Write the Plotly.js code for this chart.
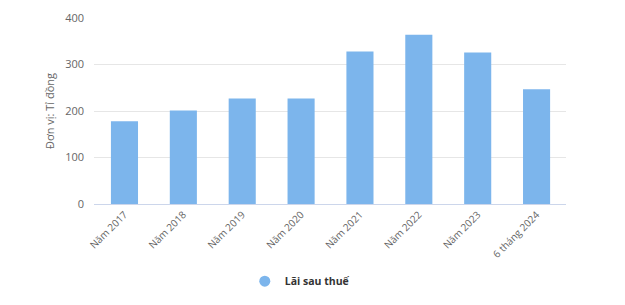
<!DOCTYPE html>
<html>
<head>
<meta charset="utf-8">
<script src="https://cdn.plot.ly/plotly-3.0.1.min.js"></script>
<style>html,body{margin:0;padding:0;background:#fff;}#chart{width:625px;height:305px;}</style>
</head>
<body>
<div id="chart"></div>
<script>
var categories = ["Năm 2017", "Năm 2018", "Năm 2019", "Năm 2020", "Năm 2021", "Năm 2022", "Năm 2023", "6 tháng 2024"];
var profitAfterTax = [178, 201, 227, 227, 328, 364, 326, 247];
var seriesName = "Lãi sau thuế";
var yTickValues = [0, 100, 200, 300, 400];
var barColor = "#7cb5ec";
var fontFamily = "'Open Sans', 'DejaVu Sans', sans-serif";

var traces = [
  {
    type: "bar",
    x: categories,
    y: profitAfterTax,
    marker: {color: barColor},
    showlegend: false,
    hoverinfo: "x+y"
  },
  {
    type: "scatter",
    mode: "markers",
    x: [categories[0]],
    y: [null],
    name: seriesName,
    marker: {color: barColor, size: 11, symbol: "circle"},
    showlegend: true
  }
];

var layout = {
  width: 625,
  height: 305,
  margin: {l: 94, r: 59, t: 18, b: 101, autoexpand: false},
  paper_bgcolor: "#ffffff",
  plot_bgcolor: "#ffffff",
  font: {family: fontFamily, size: 11, color: "#666666"},
  bargap: 0.54,
  xaxis: {
    type: "category",
    tickangle: -45,
    tickfont: {size: 10, color: "#666666"},
    showgrid: false,
    showline: true,
    linecolor: "#ccd6eb",
    linewidth: 1,
    ticks: "",
    automargin: false,
    fixedrange: true
  },
  yaxis: {
    range: [0, 400],
    tickvals: yTickValues,
    showgrid: true,
    gridcolor: "#e6e6e6",
    gridwidth: 1,
    zeroline: false,
    showline: false,
    ticks: "",
    ticklabelstandoff: 9,
    automargin: false,
    tickfont: {size: 11, color: "#666666"},
    title: {text: "Đơn vị: Tỉ đồng", font: {size: 11, color: "#666666"}, standoff: 8},
    fixedrange: true
  },
  legend: {
    orientation: "h",
    x: 0.436,
    xanchor: "center",
    y: -0.415,
    yanchor: "middle",
    font: {size: 10.5, color: "#333333", weight: "bold"},
    itemsizing: "trace"
  }
};

Plotly.newPlot("chart", traces, layout, {displayModeBar: false, staticPlot: true});
</script>
</body>
</html>
